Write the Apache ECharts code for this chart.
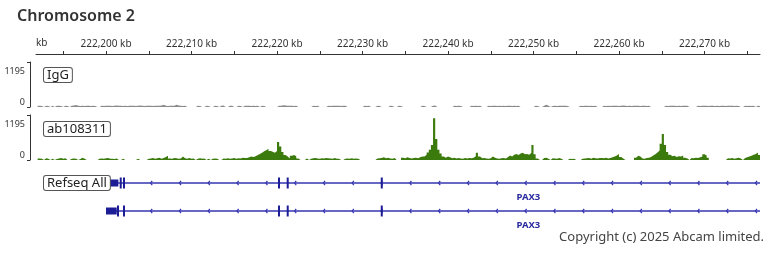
<!DOCTYPE html>
<html><head><meta charset="utf-8">
<script src="https://cdn.jsdelivr.net/npm/echarts@6/dist/echarts.min.js"></script>
<style>html,body{margin:0;padding:0;background:#fff}#c{width:768px;height:256px}</style>
</head><body><div id="c"></div>
<script>
// ---- data ----
const chromName = 'Chromosome 2';
const viewStartKb = 222191.81;
const viewEndKb = 222276.49;
const majorTicksKb = [222200, 222210, 222220, 222230, 222240, 222250, 222260, 222270];
const minorTicksKb = [222195, 222205, 222215, 222225, 222235, 222245, 222255, 222265, 222275];
const trackNames = ['IgG', 'ab108311'];
const trackMax = 1195;
const binStartKb = 222192.0;
const binSizeKb = 0.25;
const igGValues = [
  30,25,0,30,25,0,30,0,30,30,25,0,30,25,0,30,40,50,30,25,
  30,25,30,35,25,30,25,0,0,30,25,30,35,30,25,30,40,35,30,25,
  30,25,30,35,30,25,30,40,30,25,30,35,30,25,30,35,30,40,60,30,
  25,30,35,30,60,40,30,25,30,0,0,0,0,0,30,25,0,0,30,25,
  0,0,30,25,0,30,40,0,0,30,35,0,0,30,25,0,30,35,30,25,
  30,25,30,0,30,25,0,0,0,0,0,0,30,35,45,40,30,35,30,25,
  30,0,0,0,0,0,0,0,30,25,30,0,0,0,0,30,25,35,30,30,
  30,25,30,30,0,0,0,0,0,0,0,0,30,25,30,0,0,0,30,25,
  0,0,0,0,30,25,0,0,30,25,0,0,0,0,0,0,0,0,0,30,
  25,0,0,0,35,40,0,0,0,0,0,0,0,0,30,25,30,25,0,0,
  0,0,30,25,30,25,30,0,0,0,30,25,30,35,25,30,25,30,25,30,
  30,25,30,25,30,0,0,0,0,0,0,0,30,25,0,0,35,60,30,0,
  25,30,25,30,35,30,30,25,0,0,0,0,0,30,25,30,35,25,30,25,
  30,0,0,0,30,25,30,25,30,35,30,25,30,40,30,25,30,25,30,35,
  30,25,30,35,25,30,0,0,0,0,0,0,0,30,25,30,35,30,25,30,
  25,30,35,30,0,0,0,0,30,25,30,35,30,25,30,35,25,30,25,30,
  30,25,30,35,30,25,30,25,0,0,30,25,30,25,30,0,30,25,0,0
];
const abValues = [
  40,30,0,45,30,0,35,0,25,40,55,30,45,0,0,30,40,35,0,25,
  60,35,0,0,0,0,0,0,35,40,30,45,50,30,35,25,40,0,0,30,
  0,0,0,0,0,0,30,0,0,0,0,35,40,50,30,45,60,35,50,80,
  110,40,35,50,45,30,40,90,45,35,50,30,40,0,30,45,35,40,0,30,
  0,35,40,30,0,0,40,35,45,30,40,50,35,45,40,60,50,55,70,90,
  80,100,130,160,190,230,260,300,240,220,190,240,480,360,210,130,90,40,110,130,
  100,40,0,0,0,40,0,35,45,50,40,35,45,40,55,45,40,30,50,35,
  30,0,0,35,40,30,45,35,40,30,0,0,0,0,0,0,0,0,40,45,
  50,70,45,60,40,35,50,0,0,0,60,45,70,50,40,55,60,45,70,90,
  90,140,200,270,400,1110,560,270,170,90,60,90,70,45,60,40,55,40,35,50,
  40,50,45,60,100,190,90,45,50,40,35,45,90,60,40,35,45,55,40,70,
  120,90,140,160,130,170,190,150,160,140,190,400,150,40,0,0,50,60,35,0,
  45,40,35,50,30,0,0,0,30,25,30,0,0,0,35,40,45,50,35,60,
  45,40,55,50,45,60,40,50,70,90,120,160,80,40,0,0,0,0,0,60,
  110,90,40,30,50,60,80,120,150,200,250,430,690,400,210,140,100,110,80,100,
  90,120,60,40,0,50,45,60,55,70,90,150,120,60,0,0,0,0,0,0,
  0,0,45,40,50,35,45,60,40,0,50,70,90,110,140,160,200,130,60,0
];
const geneTrackName = 'Refseq All';
const geneName = 'PAX3';
const txStartKb = [222200.47, 222200.0];
const txEndKb = [222298.33, 222298.8];
const utrEndKb = [222201.44, 222201.25];
const txExonsKb = [
  [222201.72, 222202.1, 222220.23, 222221.25, 222232.25],
  [222201.4, 222202.1, 222220.23, 222221.25, 222232.25]
];
const copyrightText = 'Copyright (c) 2025 Abcam limited.';

// ---- build ----
function toSteps(vals) {
  const d = vals.map((v, i) => [binStartKb + i * binSizeKb, v]);
  d.push([binStartKb + vals.length * binSizeKb, 0]);
  return d;
}
const FONT = '"Noto Sans", sans-serif';
const gridL = 36, gridR = 8;
const grids = [
  { left: gridL, right: gridR, top: 62, height: 45 },
  { left: gridL, right: gridR, top: 115, height: 45 },
  { left: gridL, right: gridR, top: 169, height: 56 }
];
function fmtKb(v) { return Math.round(v).toLocaleString('en-US') + ' kb'; }
const xAxes = [0, 1, 2].map(g => ({
  gridIndex: g, type: 'value', min: viewStartKb, max: viewEndKb,
  show: g === 0, position: 'top', offset: 8,
  axisLine: { show: true, onZero: false, lineStyle: { color: '#333', width: 1 } },
  axisTick: { show: true, inside: false, length: 3, customValues: majorTicksKb.concat(minorTicksKb), lineStyle: { color: '#333' } },
  axisLabel: { show: true, customValues: majorTicksKb, formatter: fmtKb, fontSize: 10, color: '#333', margin: 5, fontFamily: FONT },
  splitLine: { show: false }
}));
const yAxes = [0, 1].map(g => ({
  gridIndex: g, type: 'value', min: 0, max: trackMax, offset: 6,
  axisLine: { show: true, onZero: false, lineStyle: { color: '#333', width: 1 } },
  axisTick: { show: true, length: 3, customValues: [0, trackMax], lineStyle: { color: '#333' } },
  axisLabel: {
    customValues: [0, trackMax], fontSize: 9, color: '#333', margin: 5, fontFamily: FONT,
    formatter: v => v === 0 ? '{b|0}' : '{t|' + v + '}',
    rich: { t: { fontSize: 9, padding: [19, 0, 0, 0] }, b: { fontSize: 9, padding: [0, 0, 9, 0] } }
  },
  splitLine: { show: false }
}));
yAxes.push({ gridIndex: 2, type: 'value', min: 0, max: 2, inverse: true, show: false });

const lineColor = '#3535b0', exonColor = '#1c1c96', labelColor = '#2a2aa0';
function renderGene(params, api) {
  const t = api.value(0);
  const cs = params.coordSys;
  const yc = api.coord([viewStartKb, t + 0.5])[1];
  const sx = api.coord([txStartKb[t], 0])[0];
  const ex = api.coord([txEndKb[t], 0])[0];
  const x0 = Math.max(cs.x, sx), x1 = Math.min(cs.x + cs.width, ex);
  const ch = [];
  ch.push({ type: 'line', shape: { x1: x0, y1: yc, x2: x1, y2: yc }, style: { stroke: lineColor, lineWidth: 1.6 } });
  const step = 28.8;
  for (let ax = cs.x + step * 4; ax < x1 - 2; ax += step) {
    ch.push({ type: 'polyline', shape: { points: [[ax + 1, yc - 2.2], [ax - 0.6, yc], [ax + 1, yc + 2.2]] }, style: { stroke: lineColor, fill: null, lineWidth: 1.2 } });
  }
  const ux1 = api.coord([utrEndKb[t], 0])[0];
  ch.push({ type: 'rect', shape: { x: sx, y: yc - 3.5, width: ux1 - sx, height: 7 }, style: { fill: exonColor } });
  txExonsKb[t].forEach(k => {
    const px = api.coord([k, 0])[0];
    ch.push({ type: 'rect', shape: { x: px - 1, y: yc - 5.5, width: 2, height: 11 }, style: { fill: exonColor } });
  });
  const cx = api.coord([(txStartKb[t] + txEndKb[t]) / 2, 0])[0];
  ch.push({ type: 'text', x: cx, y: yc + 14, style: { text: geneName, textAlign: 'center', textVerticalAlign: 'middle', font: 'bold 9.5px ' + FONT, fill: labelColor } });
  return { type: 'group', children: ch };
}

function boxLabel(text, top) {
  return { type: 'text', left: 43, top: top, z: 10,
    style: { text: text, font: '13px ' + FONT, fill: '#222', backgroundColor: '#fff', borderColor: '#555', borderWidth: 1, borderRadius: 2, padding: [0, 3], lineHeight: 14 } };
}

const chart = echarts.init(document.getElementById('c'), null, { renderer: 'canvas' });
chart.setOption({
  animation: false,
  backgroundColor: '#fff',
  textStyle: { fontFamily: FONT },
  grid: grids,
  xAxis: xAxes,
  yAxis: yAxes,
  series: [
    { type: 'line', xAxisIndex: 0, yAxisIndex: 0, step: 'end', symbol: 'none', silent: true,
      data: toSteps(igGValues), lineStyle: { width: 0 }, areaStyle: { color: '#8a8a8a', opacity: 1 } },
    { type: 'line', xAxisIndex: 1, yAxisIndex: 1, step: 'end', symbol: 'none', silent: true,
      data: toSteps(abValues), lineStyle: { width: 0 }, areaStyle: { color: '#3b7a0c', opacity: 1 } },
    { type: 'custom', xAxisIndex: 2, yAxisIndex: 2, silent: true, renderItem: renderGene, data: [[0], [1]] }
  ],
  graphic: [
    { type: 'text', left: 17, top: 8, style: { text: chromName, font: '600 16px ' + FONT, fill: '#333' } },
    { type: 'text', left: 36, top: 38, style: { text: 'kb', font: '10px ' + FONT, fill: '#333' } },
    boxLabel(trackNames[0], 67),
    boxLabel(trackNames[1], 121),
    boxLabel(geneTrackName, 175),
    { type: 'text', right: 4, top: 231, style: { text: copyrightText, font: '13px ' + FONT, fill: '#444' } }
  ]
});
</script>
</body></html>
